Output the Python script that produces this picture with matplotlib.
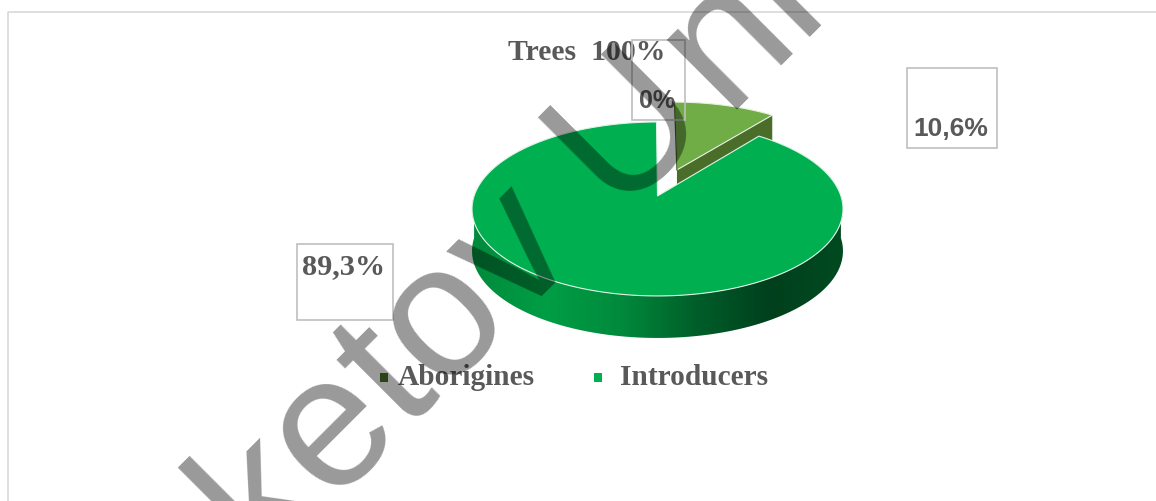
import numpy as np
import matplotlib
matplotlib.use("Agg")
import matplotlib.pyplot as plt
from matplotlib.colors import LinearSegmentedColormap
from matplotlib.patches import Polygon, Rectangle

categories = ["Aborigines", "Introducers"]
shares = [10.6, 89.3]
colors_top = ["#70AD47", "#00B050"]
colors_legend = ["#4A6E2A", "#00B050"]
chart_title = "Trees  100%"
label_zero = "0%"
label_small = "10,6%"
label_big = "89,3%"
mark_parts = ["sketov U", "ni"]

TEXT = "#595959"
BOX = "#BFBFBF"

# perspective of the tilted pie, all in pixels of the picture
CX, CY = 657.5, 197.0
AX, AY, PERSP = 183.4, 85.06, 0.149
DEPTH = 42
EXPLODE = 0.34


def project(x, y, off=0.0):
    d = 1 + PERSP * y
    return np.column_stack((CX + AX * x / d, CY - AY * y / d + off))


def slice_xy(a0, a1, ex=0.0, off=0.0):
    """ outline of one slice, angles clockwise from 12 o'clock in degrees """
    t = np.radians(np.linspace(a0, a1, 200))
    mid = np.radians((a0 + a1) / 2)
    ox, oy = ex * np.sin(mid), ex * np.cos(mid)
    x = np.r_[ox, ox + np.sin(t)]
    y = np.r_[oy, oy + np.cos(t)]
    return project(x, y, off)


fig = plt.figure(figsize=(11.56, 5.02), dpi=100)
ax = fig.add_axes([0, 0, 1, 1])
ax.set_xlim(0, 1156)
ax.set_ylim(502, 0)
ax.axis("off")

# frame of the chart
ax.plot([8, 8, 1156], [502, 12.5, 12.5], color="#D9D9D9", lw=1.2, zorder=1)

a_small = shares[0] / 100 * 360
a_big = a_small + shares[1] / 100 * 360

# exploded small slice, side first
p = slice_xy(0, a_small, EXPLODE)
side = np.vstack((p[0], p[-1], p[-1] + [0, DEPTH], p[0] + [0, DEPTH]))
ax.add_patch(Polygon(side, fc="#4A6E2A", ec="none", zorder=2))
ax.add_patch(Polygon(p, fc=colors_top[0], ec="#E8F0E0", lw=0.8, zorder=3))
ax.plot(p[:2, 0], p[:2, 1], color="#3F5E24", lw=0.9, zorder=3)

# wall of the big slice with the light to the left
t = np.radians(np.linspace(90, 270, 300))
rim = project(np.sin(t), np.cos(t))
low = rim + [0, DEPTH]
wall = np.vstack((rim, low[::-1]))
wall_patch = Polygon(wall, fc="none", ec="none", zorder=4)
ax.add_patch(wall_patch)
cmap = LinearSegmentedColormap.from_list(
    "wall", ["#008A3C", "#009E45", "#008A3C", "#005F2A", "#00401C", "#004A20"])
im = ax.imshow(np.linspace(1, 0, 256)[None, :], cmap=cmap, aspect="auto",
               extent=(rim[:, 0].max(), rim[:, 0].min(), 502, 0), zorder=4)
im.set_clip_path(wall_patch)
ax.set_xlim(0, 1156)
ax.set_ylim(502, 0)

# big slice top
ax.add_patch(Polygon(slice_xy(a_small, a_big), fc=colors_top[1], ec="#DFF2E6",
                     lw=0.8, zorder=5))

# labels
ax.text(587, 52, chart_title, family="Liberation Serif", weight="bold", size=21.4,
        color=TEXT, ha="center", va="center", zorder=6)
for (x0, y0, w, h), txt, fam, tx, ty, fs in [
        ((631.5, 40.5, 53, 80), label_zero, "Liberation Sans", 657.5, 101, 18),
        ((906.5, 68.5, 90, 80), label_small, "Liberation Sans", 951, 129, 19),
        ((296.5, 244.5, 96, 76), label_big, "Liberation Serif", 344, 267, 21.8)]:
    ax.add_patch(Rectangle((x0, y0), w, h, fc="none", ec=BOX, lw=1.2, zorder=6))
    ax.text(tx, ty, txt, family=fam, weight="bold", size=fs, color=TEXT,
            ha="center", va="center", zorder=6)

# legend
for name, col, mx, tx in zip(categories, colors_legend, [384, 598], [398, 620]):
    ax.add_patch(Rectangle((mx - 4, 374), 8, 9, fc=col, ec="none", zorder=6))
    ax.text(tx, 378, name, family="Liberation Serif", weight="bold", size=21.2,
            color=TEXT, ha="left", va="center", zorder=6)

# watermark runs on a straight line at 45 degrees across the whole chart
for part, x, y in zip(mark_parts, [200, 725], [639, 110]):
    ax.text(x, y, part, family="Liberation Sans", size=135, color="black",
            alpha=0.4, ha="left", va="baseline", rotation=45,
            rotation_mode="anchor", zorder=7)

fig.savefig("out.png", dpi=100)
